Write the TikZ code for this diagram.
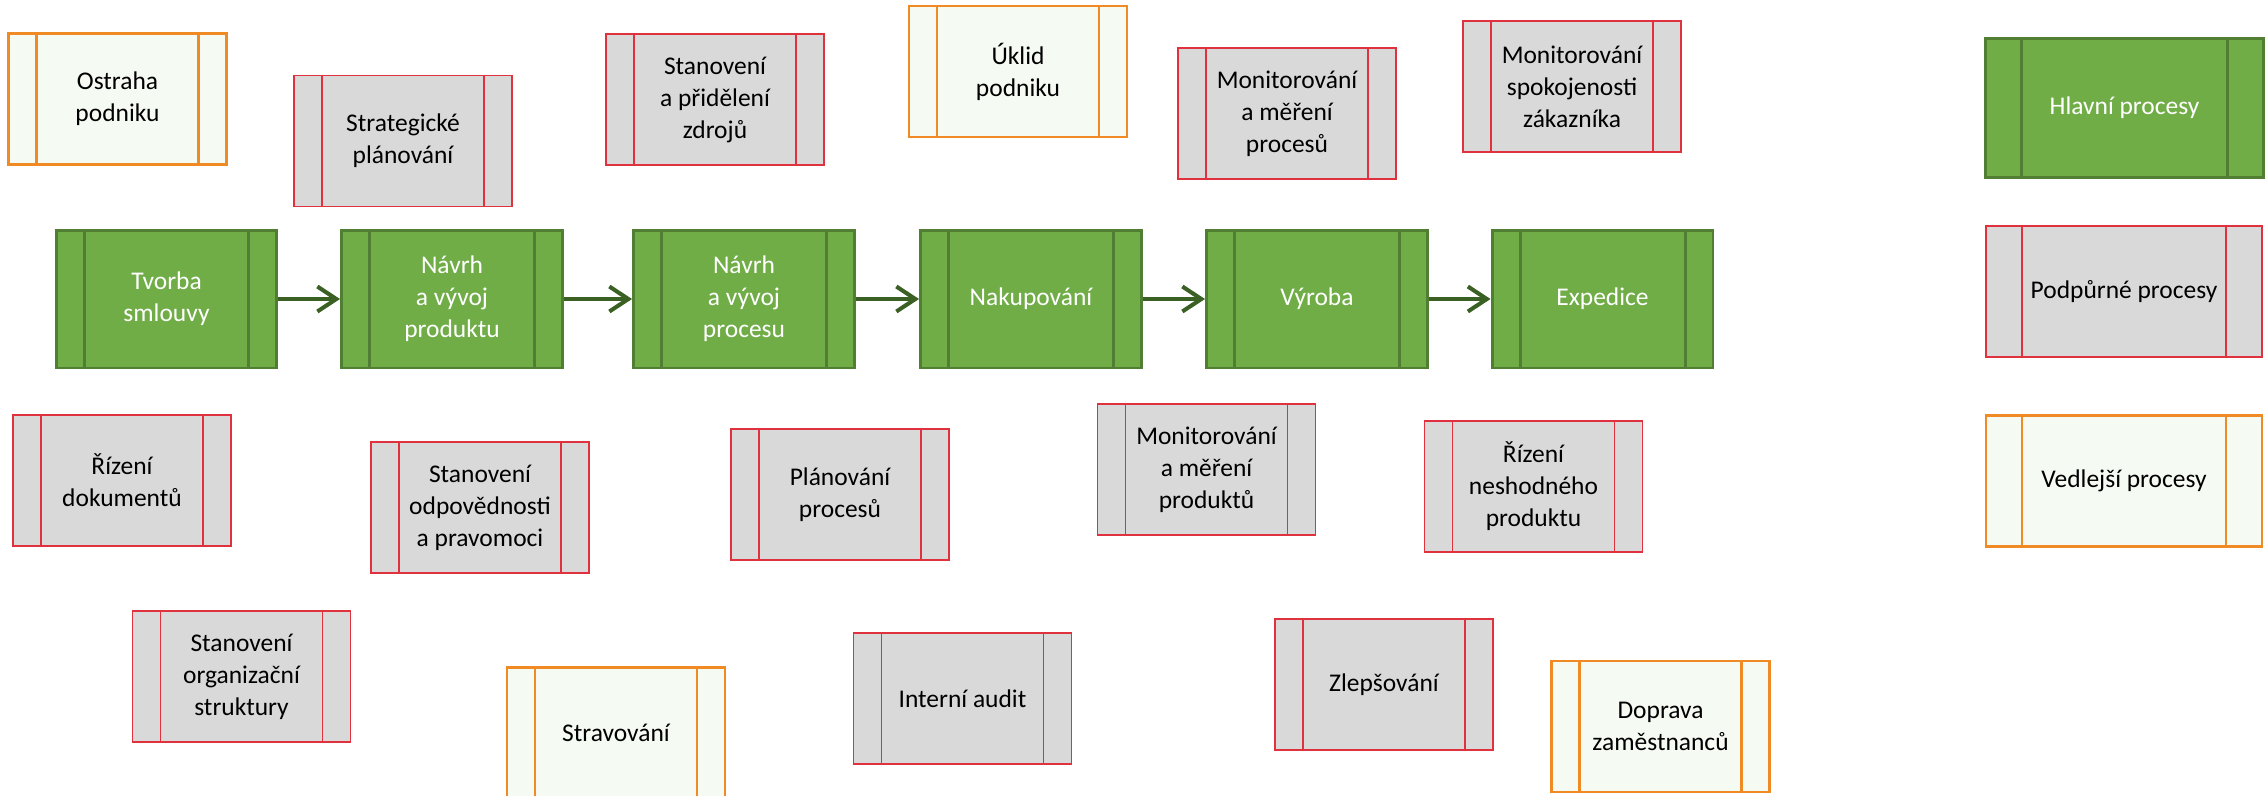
\documentclass[tikz,border=0pt]{standalone}
\usepackage{fontspec}
\setmainfont{Carlito}
\usepackage{tikz}
\usetikzlibrary{arrows.meta, positioning, calc}

\definecolor{hlavniFill}{HTML}{70AD47}
\definecolor{hlavniLine}{HTML}{507E32}
\definecolor{podpFill}{HTML}{D9D9D9}
\definecolor{podpLine}{HTML}{E0313E}
\definecolor{vedlFill}{HTML}{F5FAF3}
\definecolor{vedlLine}{HTML}{F08A24}
\definecolor{tokGreen}{HTML}{3B6023}

\tikzset{
  bars/.style n args={3}{path picture={
    \draw[#1, line width=#3] ([xshift=#2]path picture bounding box.north west) -- ([xshift=#2]path picture bounding box.south west);
    \draw[#1, line width=#3] ([xshift=-#2]path picture bounding box.north east) -- ([xshift=-#2]path picture bounding box.south east);
  }},
  procbox/.style={minimum width=4.36cm, minimum height=2.62cm, inner sep=0pt, align=center,
    font=\fontsize{14.5}{18.2}\selectfont},
  mainproc/.style={procbox, minimum width=4.42cm, minimum height=2.76cm, fill=hlavniFill,
    draw=hlavniLine, line width=1.7pt, text=white, bars={hlavniLine}{0.56cm}{1.7pt}},
  supproc/.style={procbox, fill=podpFill, draw=podpLine, line width=1pt, bars={podpLine}{0.56cm}{1pt}},
  sideproc/.style={procbox, fill=vedlFill, draw=vedlLine, line width=1.3pt, bars={vedlLine}{0.56cm}{1.2pt}},
  flow/.style={draw=tokGreen, line width=2.3pt, -{Straight Barb[length=0.38cm, width=0.5cm]}},
}

\begin{document}
\begin{tikzpicture}[x=0.02cm, y=-0.02cm]
\useasboundingbox (0,0) rectangle (2267,795);

% hlavni procesy
\node (tvorba) at (166.5, 299) [mainproc] {Tvorba\\smlouvy};
\node (navrhprod) at (452, 299) [mainproc] {Návrh\\a vývoj\\produktu};
\node (navrhproc) at (744, 299) [mainproc] {Návrh\\a vývoj\\procesu};
\node (nakup) at (1031, 299) [mainproc] {Nakupování};
\node (vyroba) at (1317, 299) [mainproc] {Výroba};
\node (expedice) at (1602.5, 299) [mainproc] {Expedice};

% podpurne procesy
\node (strateg) at (403, 141) [supproc] {Strategické\\plánování};
\node (zdroje) at (715, 99.5) [supproc] {Stanovení\\a přidělení\\zdrojů};
\node (monproc) at (1287, 113.5) [supproc] {Monitorování\\a měření\\procesů};
\node (spokoj) at (1572, 86.5) [supproc] {Monitorování\\spokojenosti\\zákazníka};
\node (dokumenty) at (122, 480.5) [supproc] {Řízení\\dokumentů};
\node (odpovednost) at (480, 507.5) [supproc] {Stanovení\\odpovědnosti\\a pravomoci};
\node (planovani) at (840, 494.5) [supproc] {Plánování\\procesů};
\node (monprod) at (1206.5, 469.5) [supproc] {Monitorování\\a měření\\produktů};
\node (neshoda) at (1533.5, 486.5) [supproc] {Řízení\\neshodného\\produktu};
\node (organizace) at (241.5, 676.5) [supproc] {Stanovení\\organizační\\struktury};
\node (audit) at (962.5, 698.5) [supproc] {Interní audit};
\node (zlepsovani) at (1384, 684.5) [supproc] {Zlepšování};

% vedlejsi procesy
\node (ostraha) at (117.5, 99) [sideproc] {Ostraha\\podniku};
\node (uklid) at (1018, 71.5) [sideproc] {Úklid\\podniku};
\node (stravovani) at (616, 733) [sideproc] {Stravování};
\node (doprava) at (1660.5, 726.5) [sideproc] {Doprava\\zaměstnanců};

% legenda
\node (hlavni) at (2124.5, 108) [mainproc, minimum width=5.56cm, minimum height=2.8cm, bars={hlavniLine}{0.72cm}{1.7pt}] {Hlavní procesy};
\node (podpurne) at (2124, 291.5) [supproc, minimum width=5.52cm, bars={podpLine}{0.72cm}{1pt}] {Podpůrné procesy};
\node (vedlejsi) at (2124, 481) [sideproc, minimum width=5.52cm, bars={vedlLine}{0.72cm}{1.2pt}] {Vedlejší procesy};

\draw[flow] (tvorba) -- (navrhprod);
\draw[flow] (navrhprod) -- (navrhproc);
\draw[flow] (navrhproc) -- (nakup);
\draw[flow] (nakup) -- (vyroba);
\draw[flow] (vyroba) -- (expedice);
\end{tikzpicture}
\end{document}
